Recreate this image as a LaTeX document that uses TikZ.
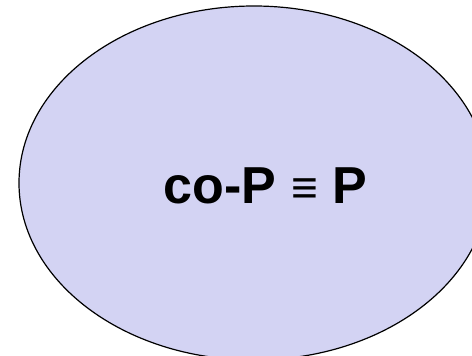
\documentclass[tikz,border=0pt]{standalone}
\usepackage{fontspec}
\setmainfont{Liberation Sans}
\begin{document}
\begin{tikzpicture}[x=1pt,y=-1pt,
  setshape/.style={draw=black, line width=1.2pt, fill={rgb,255:red,211;green,211;blue,243}},
  lbl/.style={inner sep=0pt, anchor=base, font=\fontsize{52}{60}\selectfont}]
\useasboundingbox (0,0) rectangle (472,356);
\begin{scope}
\clip (0,0) rectangle (472,356);
\path[setshape] (254,183) ellipse [x radius=235, y radius=177];
\end{scope}
\node[lbl] (t) at (265.5,203) {\bfseries co-P \mdseries{\fontsize{46}{50}\selectfont\char"2261}{} \bfseries P};
\end{tikzpicture}
\end{document}
